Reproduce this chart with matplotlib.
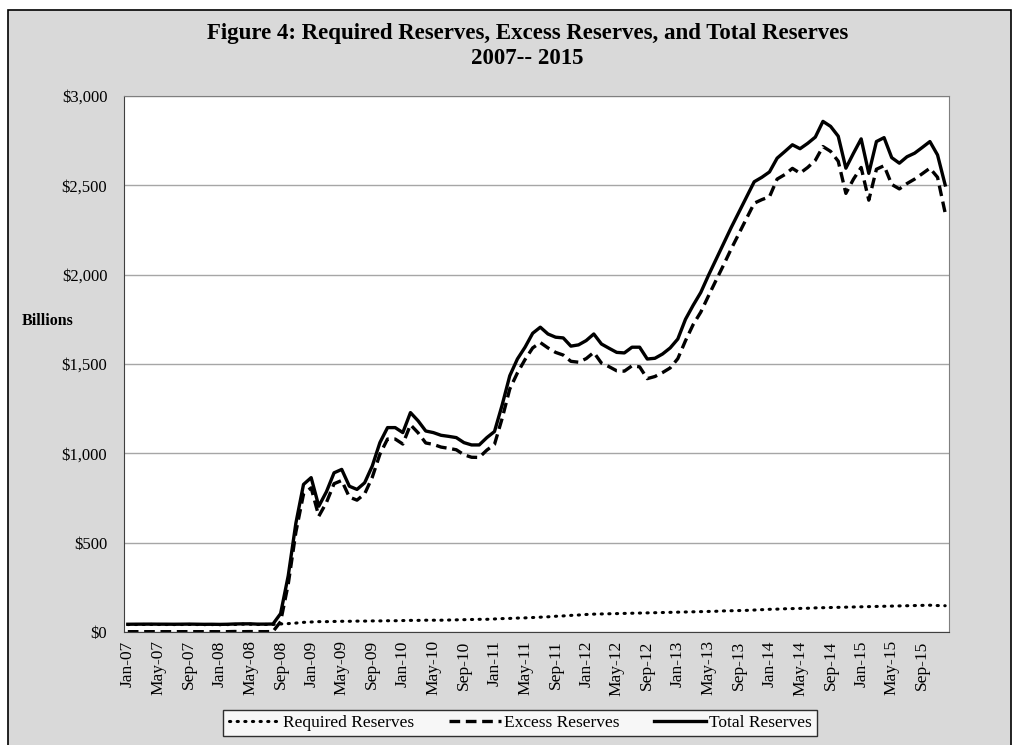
import matplotlib.pyplot as plt
from matplotlib.patches import Rectangle

# monthly values, billions of dollars, Jan-07 .. Dec-15
required = [41.6, 41.9, 42.1, 42.3, 42.0, 41.9, 41.6, 41.9, 42.3, 41.8, 41.3, 41.5,
            41.0, 41.5, 42.1, 43.8, 43.5, 42.0, 42.2, 42.3, 45, 47, 50, 54,
            56, 58, 58, 59, 60, 60, 61, 61, 62, 62, 63, 63,
            64, 65, 65, 66, 66, 66, 67, 68, 69, 70, 71, 71,
            73, 75, 76, 78, 79, 81, 83, 85, 88, 90, 93, 95,
            98, 100, 101, 102, 103, 104, 105, 106, 107, 108, 109, 110,
            111, 112, 113, 114, 115, 116, 118, 119, 120, 121, 123, 125,
            127, 128, 130, 131, 132, 133, 135, 136, 137, 138, 139, 140,
            141, 142, 143, 144, 145, 146, 147, 148, 149, 150, 148, 147]

excess = [1.8, 1.8, 1.8, 1.8, 1.8, 1.8, 1.8, 1.8, 1.9, 1.8, 1.7, 1.8,
          1.6, 1.8, 2.8, 1.8, 2.3, 2.0, 1.9, 2.4, 58, 268, 559, 772,
          807, 648, 725, 830, 848, 755, 738, 773, 866, 995, 1080, 1080,
          1052, 1160, 1115, 1058, 1050, 1035, 1028, 1020, 992, 978, 977, 1018,
          1050, 1195, 1360, 1450, 1525, 1590, 1620, 1590, 1565, 1550, 1515, 1510,
          1530, 1565, 1505, 1485, 1462, 1460, 1490, 1484, 1418, 1430, 1452, 1478,
          1530, 1630, 1720, 1790, 1880, 1968, 2055, 2145, 2230, 2315, 2400, 2420,
          2436, 2535, 2560, 2595, 2568, 2600, 2640, 2717, 2690, 2635, 2455, 2535,
          2600, 2417, 2590, 2610, 2505, 2480, 2510, 2535, 2565, 2596, 2545, 2345]

total = [43.4, 43.7, 43.9, 44.1, 43.8, 43.7, 43.4, 43.7, 44.2, 43.6, 43.0, 43.3,
         42.6, 43.3, 44.9, 45.6, 45.8, 44.0, 44.1, 44.7, 103, 315, 609, 826,
         864, 704, 785, 891, 910, 816, 798, 835, 929, 1060, 1144, 1144,
         1116, 1228, 1182, 1125, 1116, 1101, 1095, 1088, 1060, 1047, 1047, 1088,
         1122, 1270, 1434, 1528, 1594, 1672, 1706, 1668, 1650, 1646, 1600, 1607,
         1631, 1668, 1612, 1588, 1565, 1562, 1594, 1594, 1528, 1532, 1556, 1590,
         1640, 1750, 1828, 1900, 1995, 2085, 2175, 2265, 2350, 2435, 2520, 2545,
         2575, 2652, 2689, 2727, 2705, 2735, 2770, 2858, 2830, 2775, 2596, 2680,
         2760, 2567, 2745, 2767, 2655, 2624, 2660, 2680, 2712, 2745, 2670, 2502]

month_names = ['Jan', 'Feb', 'Mar', 'Apr', 'May', 'Jun',
               'Jul', 'Aug', 'Sep', 'Oct', 'Nov', 'Dec']
years = ['07', '08', '09', '10', '11', '12', '13', '14', '15']
months = [m + '-' + y for y in years for m in month_names]

y_ticks = [0, 500, 1000, 1500, 2000, 2500, 3000]
y_labels = ['$0', '$500', '$1,000', '$1,500', '$2,000', '$2,500', '$3,000']

plt.rcParams['font.family'] = ['Liberation Serif', 'DejaVu Serif']

fig = plt.figure(figsize=(10.2, 7.45), dpi=100)
fig.patch.set_facecolor('white')
# grey chart area with black border
fig.patches.append(Rectangle((8 / 1020, -0.01), 1003 / 1020, 1 - 10 / 745 + 0.01,
                             transform=fig.transFigure, facecolor='#d9d9d9',
                             edgecolor='black', linewidth=1.2, zorder=-10))

ax = fig.add_axes([124 / 1020, 1 - 632 / 745, 825 / 1020, 536 / 745])
ax.set_facecolor('white')

x = list(range(len(months)))
ax.plot(x, required, color='black', linewidth=2.2, linestyle=(0, (0.4, 2.1)),
        dash_capstyle='round', label='Required Reserves')
ax.plot(x, excess, color='black', linewidth=2.4, linestyle=(0, (3.2, 1.7)),
        label='Excess Reserves')
ax.plot(x, total, color='black', linewidth=2.4, label='Total Reserves')

ax.set_xlim(-0.5, len(months) - 0.5)
ax.set_ylim(0, 3000)
ax.set_yticks(y_ticks)
ax.set_yticklabels(y_labels)
ax.set_xticks(x[::4])
ax.set_xticklabels(months[::4], rotation=90)
ax.tick_params(axis='y', length=0, pad=12, labelsize=12)
ax.tick_params(axis='x', length=0, pad=6, labelsize=12.5)
ax.grid(axis='y', color='#a6a6a6', linewidth=1.0)
ax.set_axisbelow(True)
for side in ['top', 'right']:
    ax.spines[side].set_color('#7f7f7f')
for side in ['left', 'bottom']:
    ax.spines[side].set_color('#404040')

fig.text(0.517, 1 - 34 / 745, 'Figure 4: Required Reserves, Excess Reserves, and Total Reserves',
         ha='center', va='center', fontsize=16.5, fontweight='bold')
fig.text(0.517, 1 - 58 / 745, '2007-- 2015', ha='center', va='center',
         fontsize=16.5, fontweight='bold')
fig.text(22 / 1020, 1 - 321 / 745, 'Billions', ha='left', va='center',
         fontsize=11.5, fontweight='bold')

leg = fig.legend(loc='center', bbox_to_anchor=(520 / 1020, 1 - 723 / 745), ncol=3,
                 frameon=True, fancybox=False, fontsize=12.5, handlelength=3.0,
                 columnspacing=2.0, handletextpad=0.15, borderpad=0.3)
leg.get_frame().set_edgecolor('black')
leg.get_frame().set_linewidth(1.0)

fig.savefig('out.png', dpi=100)
